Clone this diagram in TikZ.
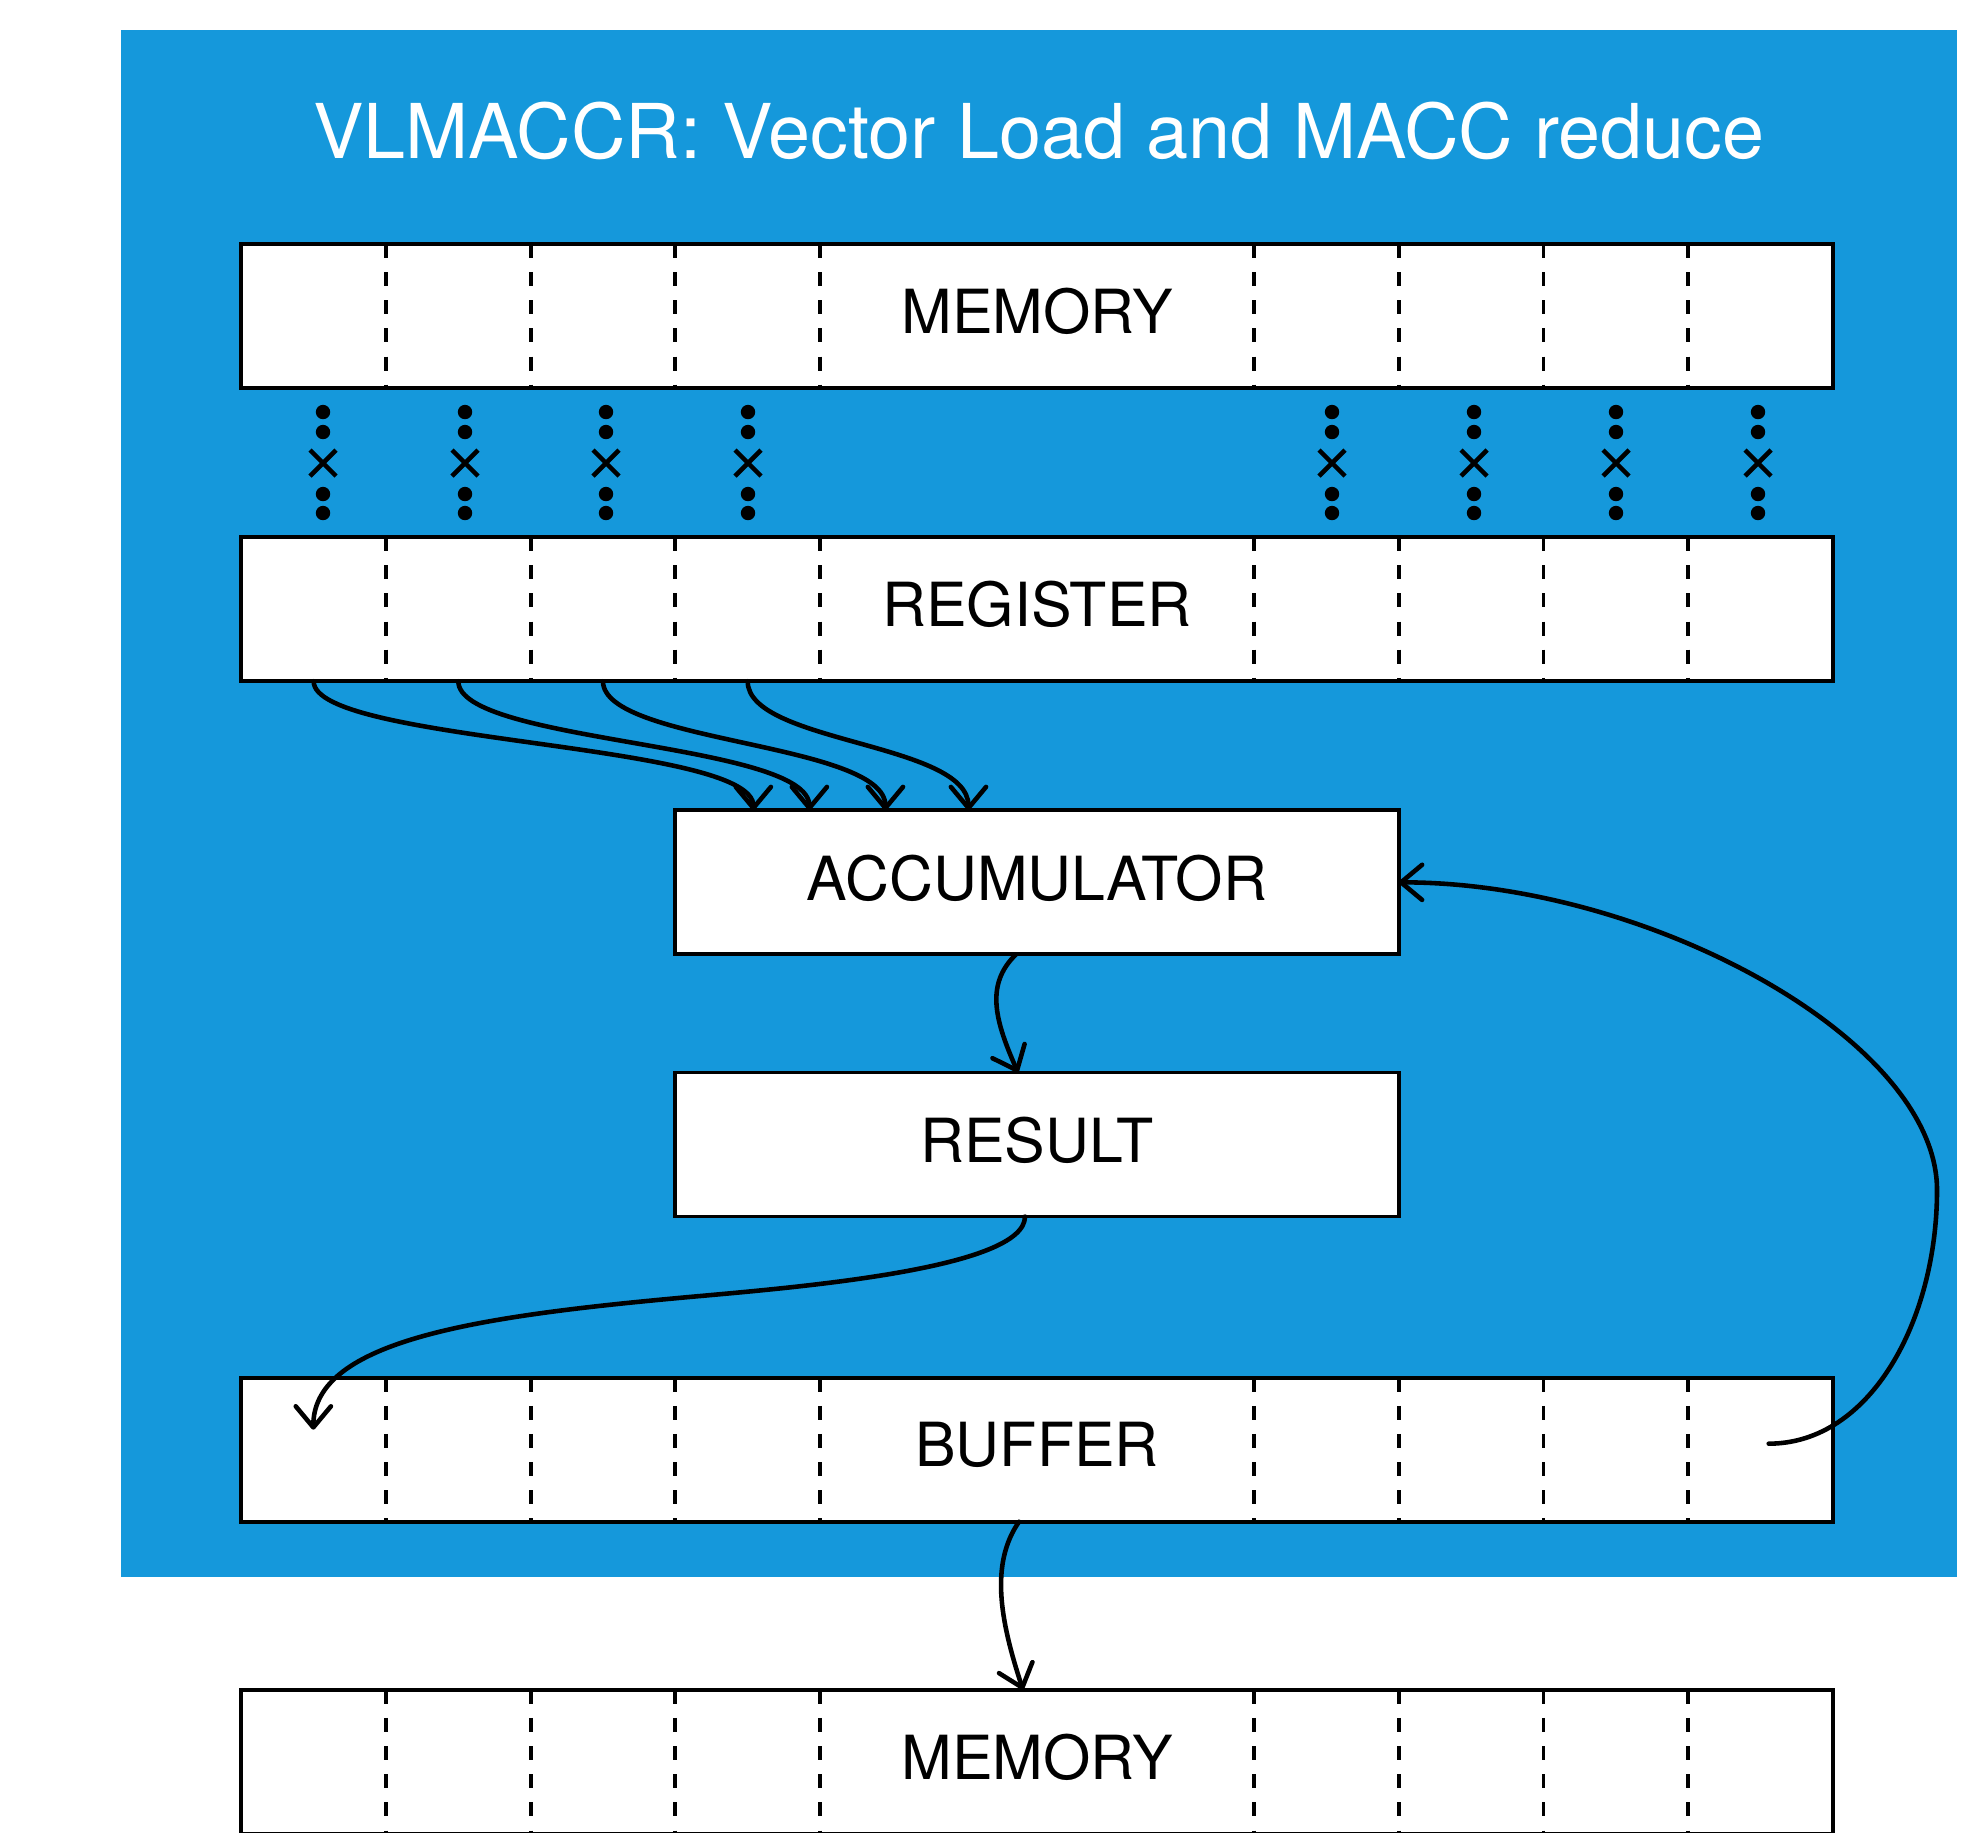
\documentclass[tikz,border=0pt]{standalone}
\usepackage{fontspec}
\setmainfont{TeX Gyre Heros}
\usepackage{tikz}
\usetikzlibrary{arrows.meta, positioning}
\definecolor{slideblue}{RGB}{21,152,219}

\begin{document}
\begin{tikzpicture}[
    x=0.01cm, y=-0.01cm,
    bar/.style={rectangle, draw, line width=1.1pt, fill=white, minimum width=15.905cm, minimum height=1.44cm, inner sep=0pt, outer sep=0pt, text depth=0.1cm, font=\fontsize{17.3}{20}\selectfont},
    unit/.style={bar, minimum width=7.23cm},
    divider/.style={line width=1.1pt, dash pattern=on 4pt off 4pt},
    arrow/.style={-{Straight Barb[length=6pt, width=10pt, round]}, line width=1.3pt, line cap=round},
    title/.style={text=white, font=\fontsize{21.5}{26}\selectfont}
]
    \useasboundingbox (0,0) rectangle (1982,1832);
    \fill[slideblue] (121,30) rectangle (1957,1577);
    \node[title] (title) at (1039,131) {VLMACCR: Vector Load and MACC reduce};

    \node[bar] (mem) at (1037,316)                {MEMORY};
    \node[bar, below=1.49cm of mem] (reg)         {REGISTER};
    \node[unit, below=1.29cm of reg] (acc)        {ACCUMULATOR};
    \node[unit, below=1.18cm of acc] (res)        {RESULT};
    \node[bar, below=1.61cm of res] (buf)         {BUFFER};
    \node[bar, below=1.68cm of buf] (mem2)        {MEMORY};

    \foreach \b in {mem,reg,buf,mem2}
        \foreach \i in {1,2,3,4,7,8,9,10}
            \draw[divider] ([xshift=\i*1.446cm]\b.north west) -- ([xshift=\i*1.446cm]\b.south west);

    \foreach \x in {323,465,606,748,1332,1474,1616,1758} {
        \fill (\x,412) circle (0.072cm) (\x,432) circle (0.072cm) (\x,494) circle (0.072cm) (\x,513) circle (0.072cm);
        \draw[line width=1.3pt] (\x-13,450) -- (\x+13,476) (\x-13,476) -- (\x+13,450);
    }

    \coordinate (bufin) at ([xshift=0.72cm, yshift=-0.52cm]buf.north west);
    \coordinate (bufout) at ([xshift=-0.64cm, yshift=-0.66cm]buf.north east);

    \foreach \i/\t in {1/0.78, 2/1.34, 3/2.10, 4/2.93}
        \draw[arrow] ([xshift=(\i-0.5)*1.446cm]reg.south west) .. controls +(0,62) and +(0,-68) .. ([xshift=\t cm]acc.north west);

    \draw[arrow] ([xshift=-0.21cm]acc.south) .. controls +(-31,30) and +(-23,-52) .. ([xshift=-0.19cm]res.north);
    \draw[arrow] ([xshift=-0.12cm]res.south) .. controls +(0,52) and +(111,-10) .. (689,1297)
        .. controls +(-209,19) and +(0,-90) .. (bufin);
    \draw[arrow] ([xshift=-0.18cm]buf.south) .. controls +(-29,42) and +(-23,-70) .. ([xshift=-0.14cm]mem2.north);
    \draw[arrow] (bufout) .. controls +(102,0) and +(0,130) .. (1937,1190)
        .. controls +(0,-150) and +(250,0) .. (acc.east);
\end{tikzpicture}
\end{document}
